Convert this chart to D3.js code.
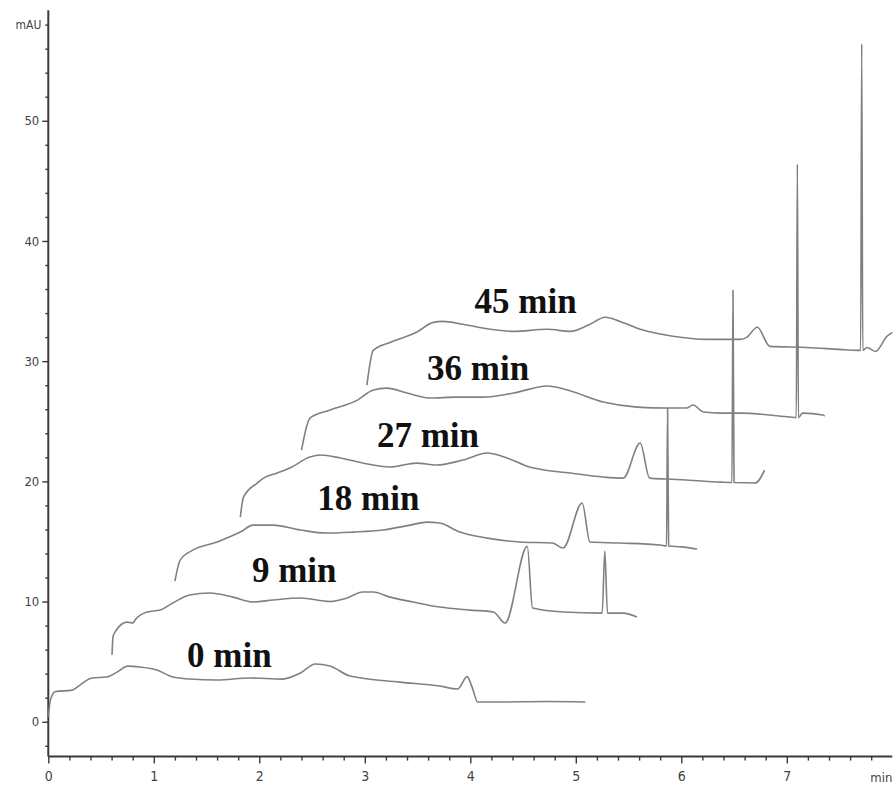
<!DOCTYPE html>
<html><head><meta charset="utf-8">
<script src="https://cdn.jsdelivr.net/npm/d3@7"></script>
<style>body{margin:0;background:#fff;} svg{display:block;}</style>
</head><body><svg id="chart" width="896" height="788"></svg>
<script>
// ---- data (time in min, absorbance in mAU, as drawn in the stacked plot) ----
const traceNames = ["0 min", "9 min", "18 min", "27 min", "36 min", "45 min"];
const labelTime = [1.315, 1.93, 2.55, 3.115, 3.59, 4.04];
const labelMAU  = [4.55, 11.62, 17.6, 22.86, 28.4, 34.0];

const trace0 = [[0.00,0.4],[0.02,1.8],[0.064,2.5],[0.225,2.63],[0.30,3.05],[0.414,3.64],[0.556,3.72],[0.651,4.13],[0.755,4.63],[0.869,4.55],[1.03,4.30],[1.18,3.72],[1.34,3.55],[1.60,3.47],[1.91,3.64],[2.22,3.55],[2.39,4.05],[2.53,4.80],[2.67,4.63],[2.86,3.80],[3.33,3.30],[3.71,2.97],[3.88,2.72],[3.97,3.75],[4.02,2.80],[4.07,1.64],[4.28,1.64],[4.70,1.68],[5.09,1.64]];
const trace9 = [[0.604,5.55],[0.613,7.05],[0.632,7.46],[0.746,8.29],[0.803,8.21],[0.822,8.46],[0.936,9.13],[1.06,9.29],[1.18,9.88],[1.34,10.54],[1.53,10.71],[1.75,10.37],[1.94,9.96],[2.13,10.13],[2.39,10.29],[2.67,10.00],[2.83,10.29],[2.98,10.79],[3.08,10.79],[3.24,10.37],[3.46,9.96],[3.71,9.54],[3.99,9.29],[4.22,9.13],[4.33,8.21],[4.54,14.6],[4.59,9.46],[4.88,9.13],[5.25,9.04],[5.275,14.2],[5.30,9.04],[5.45,9.04],[5.58,8.71]];
const trace18 = [[1.20,11.7],[1.25,13.45],[1.37,14.28],[1.60,14.95],[1.69,15.28],[1.82,15.78],[1.94,16.36],[2.13,16.36],[2.39,15.95],[2.64,15.70],[2.89,15.78],[3.17,15.95],[3.43,16.36],[3.59,16.61],[3.71,16.53],[3.90,15.78],[4.16,15.28],[4.47,14.95],[4.78,14.87],[4.88,14.45],[5.06,18.2],[5.135,14.95],[5.42,14.87],[5.80,14.70],[5.86,14.62],[5.87,26.1],[5.88,14.62],[6.00,14.55],[6.15,14.37]];
const trace27 = [[1.82,17.03],[1.85,18.69],[1.98,19.86],[2.04,20.27],[2.17,20.69],[2.29,21.11],[2.48,22.02],[2.58,22.19],[2.77,21.94],[2.98,21.52],[3.24,21.19],[3.49,21.52],[3.68,21.36],[3.93,21.77],[4.16,22.36],[4.35,21.94],[4.56,21.19],[4.95,20.69],[5.26,20.36],[5.45,20.27],[5.61,23.19],[5.70,20.27],[5.86,20.19],[6.05,20.11],[6.37,19.94],[6.48,19.90],[6.49,35.9],[6.50,19.90],[6.70,19.86],[6.79,20.94]];
const trace36 = [[2.40,22.60],[2.48,25.27],[2.67,25.93],[2.93,26.76],[3.08,27.60],[3.21,27.76],[3.40,27.35],[3.62,26.93],[3.87,27.01],[4.12,27.01],[4.41,27.35],[4.73,27.93],[4.92,27.60],[5.26,26.60],[5.58,26.18],[5.86,26.10],[6.05,26.10],[6.11,26.35],[6.21,25.77],[6.37,25.68],[6.56,25.68],[7.03,25.35],[7.09,25.30],[7.10,46.4],[7.11,25.30],[7.15,25.68],[7.34,25.52],[7.36,25.43]];
const trace45 = [[3.02,28.0],[3.08,30.9],[3.24,31.56],[3.49,32.40],[3.65,33.23],[3.74,33.31],[3.93,33.07],[4.19,32.65],[4.41,32.48],[4.73,32.65],[4.95,32.48],[5.12,33.0],[5.28,33.65],[5.42,33.3],[5.61,32.65],[5.92,32.07],[6.24,31.81],[6.56,31.81],[6.62,31.98],[6.72,32.82],[6.84,31.23],[7.19,31.14],[7.50,30.98],[7.67,30.90],[7.70,30.90],[7.71,56.4],[7.72,30.90],[7.76,31.14],[7.84,30.81],[7.95,32.07],[8.00,32.40]];
const traces = [trace0, trace9, trace18, trace27, trace36, trace45];

const yMajorTicks = [0, 10, 20, 30, 40, 50];
const yMinorTicks = [-2, 2, 4, 6, 8, 12, 14, 16, 18, 22, 24, 26, 28, 32, 34, 36, 38, 42, 44, 46, 48, 52, 54, 56, 58];
const xMajorTicks = [0, 1, 2, 3, 4, 5, 6, 7];
const xMinorTicks = d3.range(1, 40).map(i => i / 5).filter(v => Math.abs(v - Math.round(v)) > 1e-6);
const yUnit = "mAU";
const xUnit = "min";

// ---- drawing ----
const svg = d3.select("#chart");
const x = d3.scaleLinear().domain([0, 8]).range([48.3, 892.3]);
const y = d3.scaleLinear().domain([-2.9, 59.2]).range([756.6, 10.2]);

const axisColor = "#3a3a3a";
const tickFont = "'Liberation Sans Narrow','DejaVu Sans Condensed','Liberation Sans',sans-serif";

const gyMinor = svg.append("g").attr("transform", `translate(${x(0)},0)`)
  .call(d3.axisLeft(y).tickValues(yMinorTicks).tickSize(3).tickFormat(""));
const gy = svg.append("g").attr("transform", `translate(${x(0)},0)`)
  .call(d3.axisLeft(y).tickValues(yMajorTicks).tickSize(6).tickPadding(3));
const gxMinor = svg.append("g").attr("transform", `translate(0,${y(-2.9)})`)
  .call(d3.axisBottom(x).tickValues(xMinorTicks).tickSize(4).tickFormat(""));
const gx = svg.append("g").attr("transform", `translate(0,${y(-2.9)})`)
  .call(d3.axisBottom(x).tickValues(xMajorTicks).tickSize(7).tickPadding(7));

[gyMinor, gy, gxMinor, gx].forEach(g => {
  g.select(".domain").remove();
  g.selectAll(".tick line").attr("stroke", axisColor).attr("stroke-width", 1.4);
  g.selectAll(".tick text").attr("fill", "#444").style("font-family", tickFont)
    .style("font-stretch", "condensed").style("font-size", "13px");
});
gx.selectAll(".tick text").style("font-size", "14px");

svg.append("line").attr("x1", x(0)).attr("x2", x(0)).attr("y1", y(59.2)).attr("y2", y(-2.9))
  .attr("stroke", axisColor).attr("stroke-width", 2);
svg.append("line").attr("x1", x(0)).attr("x2", x(8)).attr("y1", y(-2.9)).attr("y2", y(-2.9))
  .attr("stroke", axisColor).attr("stroke-width", 2);

svg.append("text").attr("x", x(0) - 7).attr("y", y(58)).attr("dy", "0.35em")
  .attr("text-anchor", "end").attr("fill", "#444")
  .style("font-family", tickFont).style("font-stretch", "condensed").style("font-size", "12px").text(yUnit);
svg.append("text").attr("x", x(8)).attr("y", y(-2.9) + 21).attr("dy", "0.35em")
  .attr("text-anchor", "end").attr("fill", "#444")
  .style("font-family", tickFont).style("font-stretch", "condensed").style("font-size", "13px").text(xUnit);

const line = d3.line().x(d => x(d[0])).y(d => y(d[1])).curve(d3.curveMonotoneX);
svg.append("g").selectAll("path").data(traces).join("path")
  .attr("d", line)
  .attr("fill", "none")
  .attr("stroke", "#808080")
  .attr("stroke-width", 1.6)
  .attr("stroke-linejoin", "round");

svg.append("g").selectAll("text").data(traceNames).join("text")
  .attr("x", (d, i) => x(labelTime[i]))
  .attr("y", (d, i) => y(labelMAU[i]))
  .attr("fill", "#111")
  .style("font-family", "'Liberation Serif','Times New Roman',serif")
  .style("font-weight", "bold")
  .style("font-size", "35px")
  .text(d => d);
</script>
</body></html>
